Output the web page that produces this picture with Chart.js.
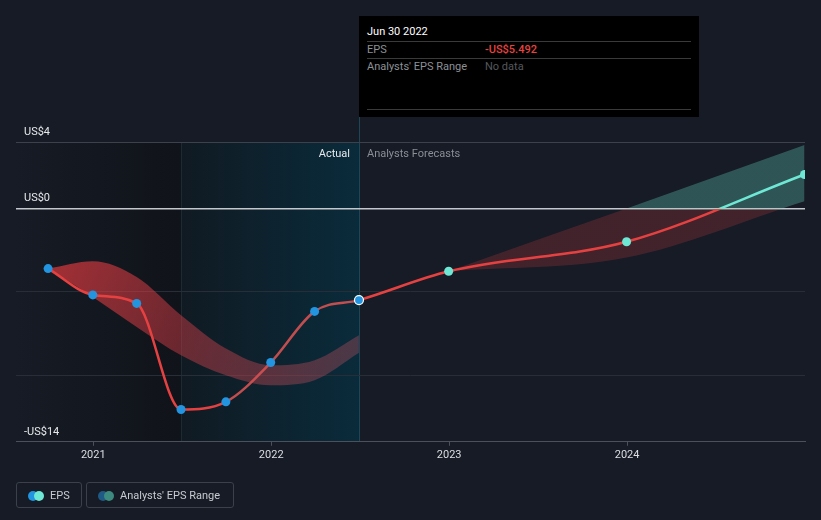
<!DOCTYPE html>
<html>
<head>
<meta charset="utf-8">
<script src="https://cdn.jsdelivr.net/npm/chart.js@4"></script>
<style>
  body { margin: 0; background: #161b25; font-family: Roboto, sans-serif; }
  #wrap { position: relative; width: 821px; height: 520px; }
  #tip { position: absolute; left: 359px; top: 16px; width: 340px; height: 101px; background: #000; font-size: 11px; }
  #tip .row { position: absolute; left: 8px; width: 324px; }
  #tip .sep { position: absolute; left: 8px; width: 324px; height: 1px; background: #3a3a3a; }
  .legend { position: absolute; top: 482px; height: 26px; border: 1px solid #3b404a; border-radius: 3px; box-sizing: border-box; font-size: 11px; color: #c8cbd0; }
  .legend .dot { position: absolute; top: 8px; width: 10px; height: 10px; border-radius: 50%; }
  .legend span.t { position: absolute; top: 6px; }
</style>
</head>
<body>
<div id="wrap">
  <canvas id="epsChart" width="821" height="520"></canvas>
  <div id="tip">
    <div class="row" style="top:9px;color:#fff;">Jun 30 2022</div>
    <div class="sep" style="top:25px;"></div>
    <div class="row" style="top:27px;color:#8d9096;">EPS<span style="position:absolute;left:118px;color:#e8423f;font-weight:500;">-US$5.492</span></div>
    <div class="sep" style="top:42px;"></div>
    <div class="row" style="top:44px;color:#8d9096;">Analysts' EPS Range<span style="position:absolute;left:118px;color:#55585d;">No data</span></div>
    <div class="sep" style="top:93px;"></div>
  </div>
  <div class="legend" style="left:16px;width:66px;">
    <div class="dot" style="left:11px;background:#2394df;"></div>
    <div class="dot" style="left:17px;background:#6ee7d4;"></div>
    <span class="t" style="left:33px;">EPS</span>
  </div>
  <div class="legend" style="left:86px;width:148px;">
    <div class="dot" style="left:11px;background:#1f5a86;"></div>
    <div class="dot" style="left:17px;background:#3d8a80;"></div>
    <span class="t" style="left:33px;">Analysts' EPS Range</span>
  </div>
</div>
<script>
// EPS actuals + forecast (last actual = Jun 30 2022)
const epsDates = ["2020-09-30", "2020-12-31", "2021-03-31", "2021-06-30", "2021-09-30", "2021-12-31",
                  "2022-03-31", "2022-06-30", "2022-12-31", "2023-12-31", "2024-12-31"];
const epsValues = [-3.60, -5.18, -5.69, -12.06, -11.60, -9.24, -6.17, -5.492, -3.76, -1.99, 2.05];
const lastActualIndex = 7;

// past analyst range
const pastRangeDates = ["2020-09-30", "2020-12-31", "2021-03-31", "2021-06-30", "2021-09-30", "2021-12-31",
                        "2022-03-31", "2022-06-30"];
const pastHigh = [-3.60, -3.16, -4.10, -6.40, -8.40, -9.40, -9.10, -7.60];
const pastLow = [-3.60, -5.30, -7.10, -8.80, -10.00, -10.60, -10.30, -8.66];

// forecast analyst range
const futRangeDates = ["2022-12-31", "2023-12-31", "2024-12-31"];
const futHigh = [-3.76, 0.00, 3.82];
const futLow = [-3.76, -2.94, 0.44];

const yearTicks = [2021, 2022, 2023, 2024];
const yGridValues = [4, 0, -5, -10, -14];
const yLabelValues = [4, 0, -14];

const RED = "#e64141";
const TEAL = "#6ee7d4";

function toYear(s) {
  const d = new Date(s + "T00:00:00Z");
  const y = d.getUTCFullYear();
  const a = Date.UTC(y, 0, 1), b = Date.UTC(y + 1, 0, 1);
  return y + (d.getTime() - a) / (b - a);
}
function pts(dates, vals) {
  return dates.map((d, i) => ({ x: toYear(d), y: vals[i] }));
}
function money(v) {
  return (v < 0 ? "-US$" : "US$") + Math.abs(v);
}

// colour split at the zero line
function zeroSplit(above, below) {
  return function (ctx) {
    const chart = ctx.chart;
    const area = chart.chartArea;
    if (!area) return below;
    const z = chart.scales.y.getPixelForValue(0);
    const f = Math.min(1, Math.max(0, (z - area.top) / (area.bottom - area.top)));
    const g = chart.ctx.createLinearGradient(0, area.top, 0, area.bottom);
    g.addColorStop(0, above);
    g.addColorStop(f, above);
    g.addColorStop(f, below);
    g.addColorStop(1, below);
    return g;
  };
}

function pastFill(ctx) {
  const chart = ctx.chart;
  if (!chart.chartArea) return "rgba(230,60,65,0.5)";
  const x = chart.scales.x, y = chart.scales.y;
  const g = chart.ctx.createLinearGradient(x.getPixelForValue(toYear(pastRangeDates[0])), y.getPixelForValue(-3),
                                           x.getPixelForValue(toYear(pastRangeDates[7])), y.getPixelForValue(-11));
  g.addColorStop(0, "rgba(232,58,62,0.68)");
  g.addColorStop(0.45, "rgba(215,62,72,0.46)");
  g.addColorStop(1, "rgba(200,85,100,0.32)");
  return g;
}

const backdrop = {
  id: "backdrop",
  beforeDraw(chart) {
    const { ctx, chartArea: a, scales: { x } } = chart;
    const x1 = x.getPixelForValue(toYear("2021-06-30"));
    const x2 = x.getPixelForValue(toYear(epsDates[lastActualIndex]));
    ctx.save();
    let g = ctx.createLinearGradient(a.left, 0, x1, 0);
    g.addColorStop(0, "#161b25");
    g.addColorStop(1, "#101319");
    ctx.fillStyle = g;
    ctx.fillRect(a.left, a.top, x1 - a.left, a.bottom - a.top);
    g = ctx.createLinearGradient(x1, 0, x2, 0);
    g.addColorStop(0, "#101a22");
    g.addColorStop(1, "#0a2b3b");
    ctx.fillStyle = g;
    ctx.fillRect(x1, a.top, x2 - x1, a.bottom - a.top);
    ctx.fillStyle = "#1c2a34";
    ctx.fillRect(Math.round(x1), a.top, 1, a.bottom - a.top);
    ctx.fillStyle = "#1f4656";
    ctx.fillRect(Math.round(x2), 117, 1, a.bottom - 117);
    ctx.restore();
  },
  afterDatasetsDraw(chart) {
    const { ctx, chartArea: a, scales: { x, y } } = chart;
    ctx.save();
    ctx.font = "11px Roboto";
    ctx.textBaseline = "middle";
    ctx.fillStyle = "#e6e8ea";
    ctx.textAlign = "left";
    yLabelValues.forEach(v => ctx.fillText(money(v), 24, y.getPixelForValue(v) - 10));
    const x2 = x.getPixelForValue(toYear(epsDates[lastActualIndex]));
    ctx.textAlign = "right";
    ctx.fillText("Actual", x2 - 9, a.top + 12);
    ctx.textAlign = "left";
    ctx.fillStyle = "#8a8e95";
    ctx.fillText("Analysts Forecasts", x2 + 8, a.top + 12);
    ctx.restore();
  }
};

new Chart(document.getElementById("epsChart"), {
  type: "line",
  data: {
    datasets: [
      {
        label: "pastHigh",
        order: 1,
        data: pts(pastRangeDates, pastHigh),
        borderWidth: 0,
        pointRadius: 0,
        cubicInterpolationMode: "monotone",
        backgroundColor: pastFill,
        fill: "+1"
      },
      {
        label: "pastLow",
        order: 1,
        data: pts(pastRangeDates, pastLow),
        borderWidth: 0,
        pointRadius: 0,
        cubicInterpolationMode: "monotone",
        fill: false
      },
      {
        label: "futHigh",
        order: 1,
        data: pts(futRangeDates, futHigh),
        borderWidth: 0,
        pointRadius: 0,
        cubicInterpolationMode: "monotone",
        backgroundColor: zeroSplit("rgba(104,220,200,0.30)", "rgba(230,65,65,0.21)"),
        fill: "+1"
      },
      {
        label: "futLow",
        order: 1,
        data: pts(futRangeDates, futLow),
        borderWidth: 0,
        pointRadius: 0,
        cubicInterpolationMode: "monotone",
        fill: false
      },
      {
        label: "EPS",
        order: 0,
        data: pts(epsDates, epsValues),
        borderColor: zeroSplit(TEAL, RED),
        borderWidth: 2.5,
        cubicInterpolationMode: "monotone",
        clip: 0,
        segment: {
          borderColor: c => (c.p0DataIndex >= 4 && c.p0DataIndex < lastActualIndex) ? "rgba(214,82,82,0.9)" : undefined
        },
        pointRadius: 4.5,
        pointBackgroundColor: c => c.dataIndex <= lastActualIndex ? "#2394df" : TEAL,
        pointBorderColor: c => c.dataIndex === lastActualIndex ? "#ffffff" : "rgba(0,0,0,0)",
        pointBorderWidth: c => c.dataIndex === lastActualIndex ? 1.2 : 0,
        fill: false
      }
    ]
  },
  options: {
    responsive: false,
    animation: false,
    events: [],
    layout: { padding: { left: 16, right: 16, top: 142, bottom: 55 } },
    plugins: { legend: { display: false }, tooltip: { enabled: false } },
    scales: {
      x: {
        type: "linear",
        min: toYear("2020-07-26"),
        max: 2025,
        afterBuildTicks: s => { s.ticks = yearTicks.map(v => ({ value: v })); },
        ticks: { color: "#dcdee2", font: { family: "Roboto", size: 11 }, padding: 3, callback: v => String(v), maxRotation: 0 },
        grid: { drawOnChartArea: false, drawTicks: true, tickLength: 4, color: "#4b505a" },
        border: { color: "#4b505a", width: 1 }
      },
      y: {
        min: -14,
        max: 4,
        afterBuildTicks: s => { s.ticks = yGridValues.map(v => ({ value: v })); },
        ticks: { display: false },
        border: { display: false },
        grid: {
          drawTicks: false,
          color: c => c.tick.value === 0 ? "#c4c7cc" : c.tick.value === 4 ? "#3c414b" : c.tick.value === -14 ? "rgba(0,0,0,0)" : "#282e38",
          lineWidth: c => c.tick.value === 0 ? 1.5 : 1
        }
      }
    }
  },
  plugins: [backdrop]
});
</script>
</body>
</html>
